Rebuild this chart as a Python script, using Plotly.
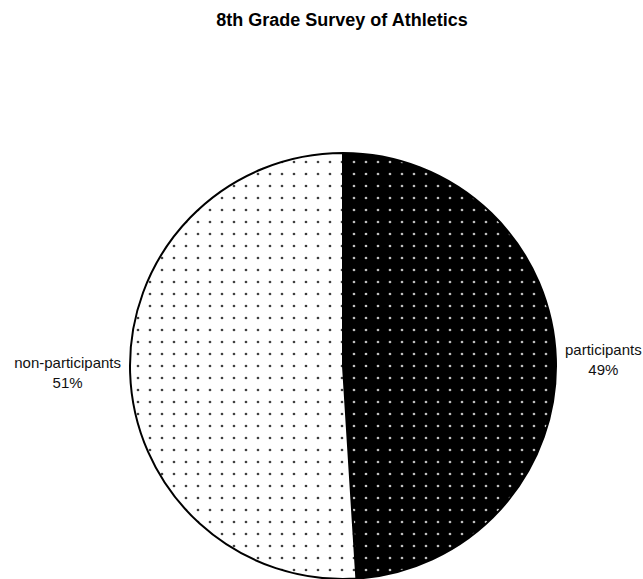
import plotly.graph_objects as go

labels = ["participants", "non-participants"]
values = [49, 51]
bg_colors = ["#000000", "#ffffff"]
dot_colors = ["#ffffff", "#000000"]
title_text = "8th Grade Survey of Athletics"

W, H = 643, 579
fig = go.Figure(
    go.Pie(
        labels=labels,
        values=values,
        sort=False,
        direction="clockwise",
        rotation=0,
        textposition="outside",
        texttemplate="%{label}<br>%{percent:.0%}",
        textfont=dict(family="Liberation Sans, Arial", size=15, color="#111111"),
        marker=dict(
            colors=bg_colors,
            line=dict(color="#000000", width=2),
            pattern=dict(
                shape=".",
                bgcolor=bg_colors,
                fgcolor=dot_colors,
                fgopacity=0.75,
                size=12,
                solidity=0.04,
                fillmode="replace",
            ),
        ),
        showlegend=False,
        hoverinfo="skip",
    )
)

fig.update_layout(
    width=W,
    height=H,
    margin=dict(l=130, r=87, t=153, b=0, autoexpand=False),
    paper_bgcolor="white",
    plot_bgcolor="white",
    title=dict(
        text="<b>" + title_text + "</b>",
        x=342 / W,
        xanchor="center",
        xref="container",
        y=1 - 20 / H,
        yanchor="middle",
        yref="container",
        font=dict(family="Liberation Sans, Arial", size=18, color="#000000"),
    ),
)

fig.write_html("out.html")
